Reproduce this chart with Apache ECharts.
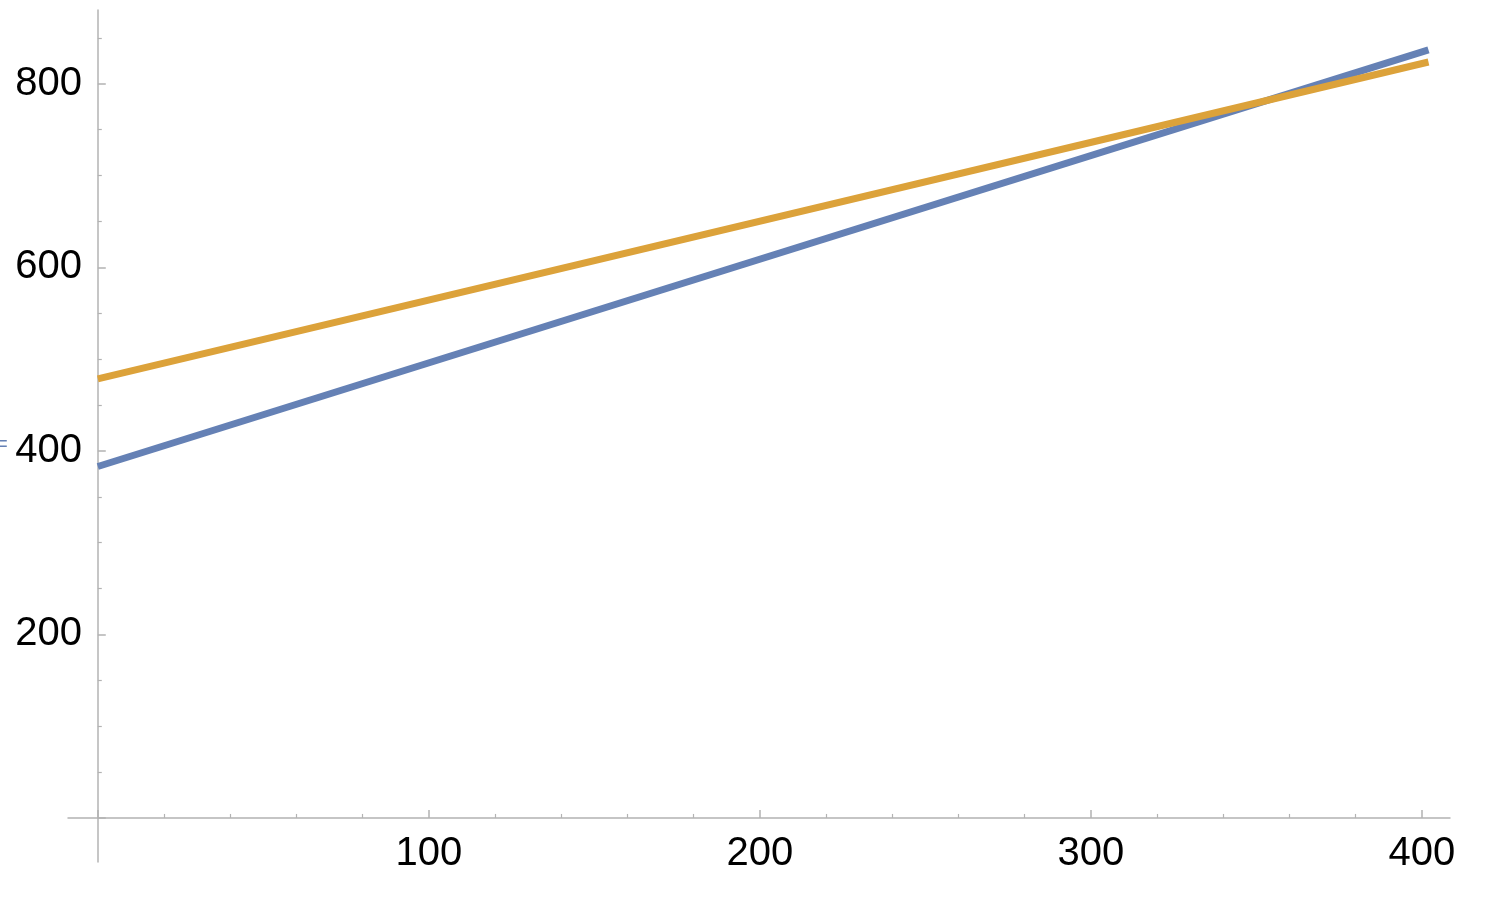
<!DOCTYPE html>
<html>
<head>
<meta charset="utf-8">
<script src="https://cdn.jsdelivr.net/npm/echarts@6/dist/echarts.min.js"></script>
<style>html,body{margin:0;padding:0;background:#fff;}#chart{width:1488px;height:920px;}</style>
</head>
<body>
<div id="chart"></div>
<script>
// Data
const blueLine = [[0, 383], [402, 837]];
const orangeLine = [[0, 478.5], [402, 823.8]];
const xLabels = [100, 200, 300, 400];
const xMajorTicks = [0, 100, 200, 300, 400];
const xMinorTicks = [20, 40, 60, 80, 120, 140, 160, 180, 220, 240, 260, 280, 320, 340, 360, 380];
const yLabels = [200, 400, 600, 800];
const yMajorTicks = [0, 200, 400, 600, 800];
const yMinorTicks = [50, 100, 150, 250, 300, 350, 450, 500, 550, 650, 700, 750, 850];

const axisColor = '#b3b3b3';
const font = '"Liberation Sans", Arial, Helvetica, sans-serif';

const chart = echarts.init(document.getElementById('chart'));
chart.setOption({
  animation: false,
  backgroundColor: '#ffffff',
  grid: { left: 68, right: 38, top: 10, bottom: 58, containLabel: false, outerBoundsMode: 'none' },
  xAxis: [
    {
      type: 'value', min: -9, max: 408.5, position: 'bottom',
      axisLine: { show: true, onZero: true, lineStyle: { color: axisColor, width: 1.5 } },
      axisTick: { show: true, inside: true, length: 8, customValues: xMajorTicks, lineStyle: { color: axisColor, width: 1.5 } },
      axisLabel: { show: true, customValues: xLabels, margin: -28, color: '#000', fontSize: 40, fontFamily: font },
      splitLine: { show: false }
    },
    {
      type: 'value', min: -9, max: 408.5, position: 'bottom',
      axisLine: { show: false, onZero: true },
      axisTick: { show: true, inside: true, length: 4, customValues: xMinorTicks, lineStyle: { color: axisColor, width: 1.2 } },
      axisLabel: { show: false },
      splitLine: { show: false }
    }
  ],
  yAxis: [
    {
      type: 'value', min: -48, max: 880.5, position: 'left',
      axisLine: { show: true, onZero: true, lineStyle: { color: axisColor, width: 1.5 } },
      axisTick: { show: true, inside: true, length: 8, customValues: yMajorTicks, lineStyle: { color: axisColor, width: 1.5 } },
      axisLabel: { show: true, customValues: yLabels, margin: -14, color: '#000', fontSize: 40, fontFamily: font },
      splitLine: { show: false }
    },
    {
      type: 'value', min: -48, max: 880.5, position: 'left',
      axisLine: { show: false, onZero: true },
      axisTick: { show: true, inside: true, length: 4, customValues: yMinorTicks, lineStyle: { color: axisColor, width: 1.2 } },
      axisLabel: { show: false },
      splitLine: { show: false }
    }
  ],
  series: [
    {
      type: 'line', xAxisIndex: 0, yAxisIndex: 0, data: blueLine,
      showSymbol: false, symbol: 'none',
      lineStyle: { color: '#6581B5', width: 7, cap: 'butt' }
    },
    {
      type: 'line', xAxisIndex: 0, yAxisIndex: 0, data: orangeLine,
      showSymbol: false, symbol: 'none',
      lineStyle: { color: '#DCA23A', width: 7, cap: 'butt' }
    }
  ],
  graphic: [
    { type: 'text', left: -5, top: 434, style: { text: '=', fill: '#6581B5', fontSize: 22, fontFamily: font } }
  ]
});
</script>
</body>
</html>
